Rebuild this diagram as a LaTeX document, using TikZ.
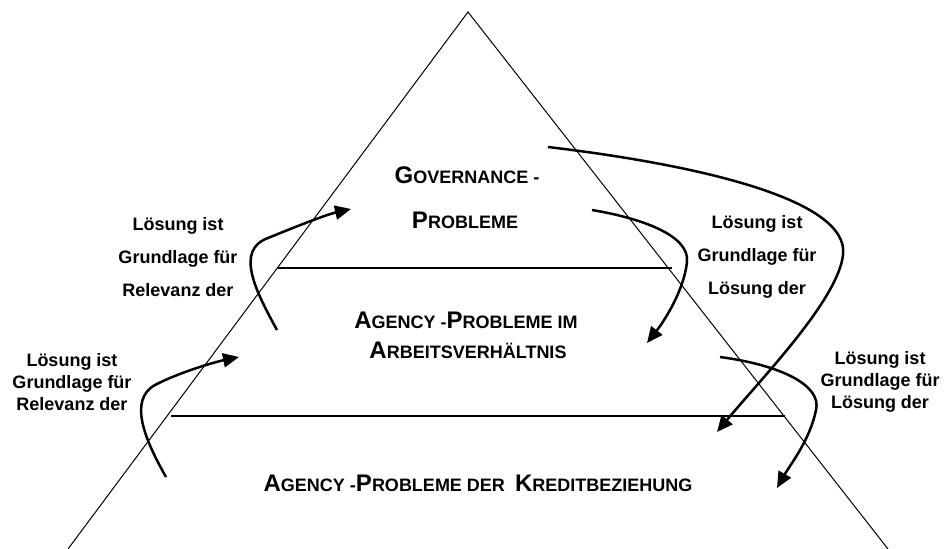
\documentclass[tikz,border=0pt]{standalone}
\usepackage{fontspec}
\setmainfont{Liberation Sans}
\usetikzlibrary{arrows.meta}
\newcommand{\bigL}[1]{{\fontsize{24}{28}\selectfont #1}}
\newcommand{\smL}[1]{{\fontsize{18}{22}\selectfont #1}}
\tikzset{
  edge/.style={line width=1pt},
  layer/.style={line width=2pt},
  flow/.style={line width=2.5pt,-{Triangle[length=16pt,width=14pt]}},
  title/.style={font=\bfseries,inner sep=0pt,anchor=center},
  lab/.style={font=\bfseries\fontsize{18}{33}\selectfont,align=center,inner sep=0pt},
  labtight/.style={font=\bfseries\fontsize{18}{22}\selectfont,align=center,inner sep=0pt}
}
\begin{document}
\begin{tikzpicture}[x=1pt,y=-1pt]
\useasboundingbox (0,0) rectangle (946,549);
% triangle
\coordinate (apex) at (468,12);
\coordinate (bl) at (68,549);
\coordinate (br) at (888,549);
\draw[edge] (bl) -- (apex) -- (br);
\coordinate (h1l) at (278,268); \coordinate (h1r) at (672,268);
\coordinate (h2l) at (171,416); \coordinate (h2r) at (785,416);
\draw[layer] (h1l) -- (h1r);
\draw[layer] (h2l) -- (h2r);
% titles
\node[title] (gov1) at (467,175) {\bigL{G}\smL{OVERNANCE -}};
\node[title] (gov2) at (465,220) {\bigL{P}\smL{ROBLEME}};
\node[title] (ag1) at (466,320) {\bigL{A}\smL{GENCY -}\bigL{P}\smL{ROBLEME IM}};
\node[title] (ag2) at (468,350) {\bigL{A}\smL{RBEITSVERHÄLTNIS}};
\node[title] (kr) at (478,483) {\bigL{A}\smL{GENCY -}\bigL{P}\smL{ROBLEME DER\ \ }\bigL{K}\smL{REDITBEZIEHUNG}};
% labels
\node[lab] (lul) at (178,257) {Lösung ist\\Grundlage für\\Relevanz der};
\node[lab] (lur) at (757,257) {Lösung ist\\Grundlage für\\Lösung der};
\node[labtight] (lll) at (72,382) {Lösung ist\\Grundlage für\\Relevanz der};
\node[labtight] (llr) at (880,382) {Lösung ist\\Grundlage für\\Lösung der};
% arrows
\coordinate (a1s) at (277,330); \coordinate (a1e) at (351,209);
\draw[flow] (a1s) .. controls (255,290) and (235,250) .. (268,238) .. controls (295,227) and (325,215) .. (a1e);
\coordinate (a2s) at (166,477); \coordinate (a2e) at (239,357);
\draw[flow] (a2s) .. controls (145,440) and (128,400) .. (155,385) .. controls (180,372) and (215,362) .. (a2e);
\coordinate (a3s) at (592,210); \coordinate (a3e) at (647,343);
\draw[flow] (a3s) .. controls (640,218) and (690,235) .. (687,262) .. controls (684,290) and (665,320) .. (a3e);
\coordinate (a4s) at (548,147); \coordinate (a4e) at (717,432);
\draw[flow] (a4s) .. controls (700,165) and (850,200) .. (843,255) .. controls (838,300) and (760,380) .. (a4e);
\coordinate (a5s) at (720,357); \coordinate (a5e) at (777,488);
\draw[flow] (a5s) .. controls (780,365) and (822,385) .. (816,410) .. controls (810,440) and (790,465) .. (a5e);
\end{tikzpicture}
\end{document}
